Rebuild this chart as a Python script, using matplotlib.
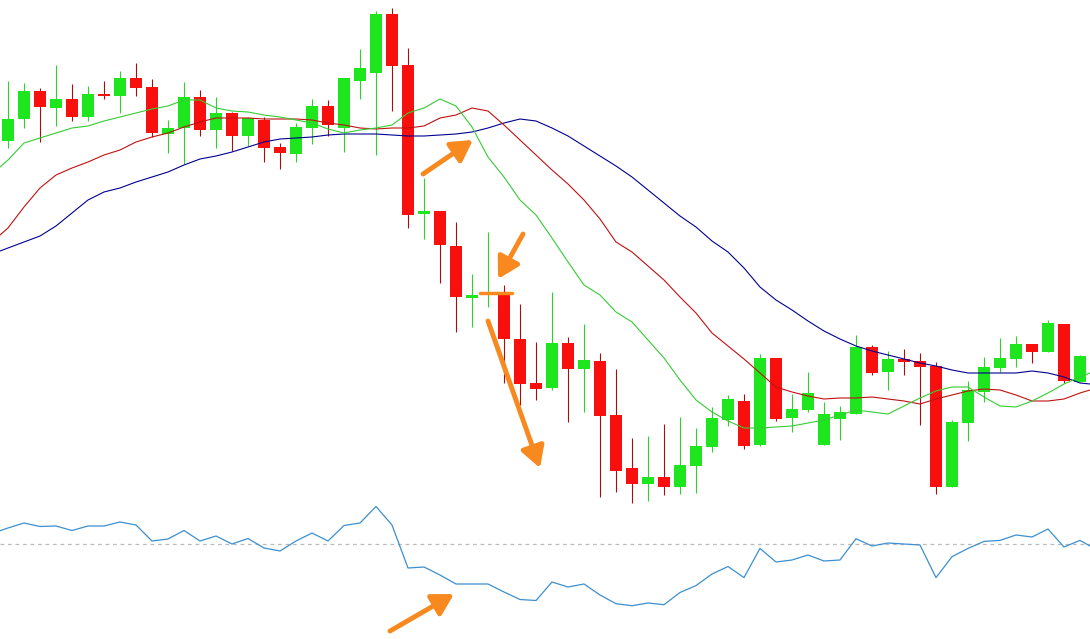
import matplotlib
matplotlib.use("Agg")
import matplotlib.pyplot as plt
import numpy as np

# OHLC (index-like price units)
opens = [459, 481, 509, 492, 501, 483, 506, 504, 522, 513,
         466, 472, 503, 470, 487, 464, 480, 453, 446, 472,
         494, 472, 519, 527, 586, 535, 386, 389, 354, 302,
         305, 307, 261, 217, 212, 257, 231, 239, 185, 132,
         116, 123, 113, 134, 153, 180, 199, 155, 242, 182,
         190, 155, 181, 186, 253, 228, 241, 239, 234, 113,
         177, 208, 232, 241, 256, 248, 276, 218]
highs = [519, 517, 512, 535, 516, 514, 519, 529, 537, 521,
         480, 518, 510, 503, 488, 483, 483, 457, 477, 501,
         500, 522, 551, 589, 592, 552, 422, 389, 378, 326,
         368, 315, 296, 258, 308, 263, 276, 247, 231, 162,
         164, 176, 183, 172, 193, 205, 206, 246, 242, 206,
         228, 198, 194, 265, 255, 249, 251, 247, 238, 180,
         219, 243, 262, 264, 256, 280, 276, 245]
lows = [452, 472, 458, 474, 479, 479, 501, 487, 504, 463,
        447, 436, 464, 452, 449, 454, 438, 431, 438, 456,
        464, 448, 501, 445, 489, 372, 361, 317, 268, 273,
        293, 217, 195, 200, 210, 178, 188, 103, 108, 97,
        99, 105, 106, 107, 148, 174, 151, 154, 179, 168,
        188, 155, 160, 186, 225, 210, 225, 175, 106, 113,
        159, 198, 228, 233, 237, 248, 217, 218]
closes = [481, 509, 493, 501, 483, 506, 504, 522, 512, 467,
          472, 503, 470, 487, 464, 482, 452, 447, 473, 494,
          475, 522, 532, 586, 534, 385, 389, 355, 303, 305,
          307, 261, 216, 211, 257, 231, 240, 184, 129, 116,
          123, 113, 135, 154, 182, 201, 154, 242, 181, 191,
          207, 186, 188, 253, 227, 241, 238, 233, 113, 178,
          210, 233, 242, 256, 248, 277, 219, 244]

# moving averages (fast / medium / slow), one value per candle
ma_fast = [440, 457, 462, 467, 472, 474, 479, 483, 487, 491,
           494, 500, 500, 492, 489, 488, 485, 483, 480, 477,
           471, 467, 470, 472, 475, 487, 492, 501, 494, 473,
           443, 423, 400, 385, 362, 338, 315, 305, 288, 278,
           260, 242, 220, 200, 188, 179, 172, 172, 173, 174,
           177, 180, 185, 190, 188, 186, 194, 202, 209, 213,
           213, 203, 194, 193, 199, 207, 216, 223]
ma_mid = [372, 393, 412, 425, 432, 438, 445, 450, 458, 463,
          467, 473, 478, 482, 482, 482, 481, 481, 481, 480,
          477, 475, 472, 471, 472, 472, 474, 482, 485, 492,
          489, 475, 460, 445, 430, 416, 400, 381, 358, 348,
          334, 320, 303, 287, 267, 254, 241, 227, 213, 208,
          204, 201, 202, 202, 203, 201, 199, 196, 201, 205,
          209, 211, 210, 205, 199, 199, 201, 207]
ma_slow = [352, 358, 364, 374, 387, 400, 408, 412, 418, 423,
           428, 435, 441, 444, 448, 453, 458, 461, 462, 463,
           465, 466, 466, 466, 465, 464, 464, 465, 466, 468,
           472, 477, 481, 479, 472, 464, 454, 444, 434, 423,
           410, 397, 384, 373, 359, 348, 332, 313, 300, 290,
           279, 269, 261, 254, 249, 245, 241, 237, 234, 230,
           227, 227, 227, 227, 229, 227, 223, 217]

# oscillator in the lower panel
osc = [1.6, 2.1, 1.75, 1.8, 1.35, 1.8, 1.8, 2.2, 1.9, 0.3,
       0.5, 1.35, 0.3, 0.8, 0.0, 0.55, -0.4, -0.7, 0.3, 1.1,
       0.3, 1.85, 2.1, 3.75, 1.9, -2.4, -2.3, -3.1, -4.0, -4.0,
       -4.0, -4.8, -5.55, -5.65, -3.8, -4.3, -4.0, -5.1, -5.97, -6.17,
       -5.9, -6.07, -4.85, -4.16, -3.0, -2.25, -3.36, -0.44, -1.8, -1.6,
       -1.1, -1.7, -1.6, 0.53, -0.2, 0.1, 0.0, -0.1, -3.36, -1.27,
       -0.44, 0.26, 0.36, 0.9, 0.7, 1.5, -0.3, 0.36]

# line values where they leave the picture (left edge, right edge)
fast_edges = (433, 227)
mid_edges = (365, 210)
slow_edges = (349, 216)
osc_edges = (1.33, -0.2)

# annotation arrows: (tail_x, tail_y, tip_x, tip_y) in data units
price_arrows = [(25.94, 426, 29.06, 460),
                (32.19, 366, 30.63, 321),
                (30.0, 279, 33.25, 132)]
osc_arrows = [(23.875, -8.7, 27.875, -5.0)]
level_line = (29.5, 31.5, 307)

UP = "#1ee61e"
DOWN = "#fa0f0f"
UP_WICK = "#2ed12e"
DOWN_WICK = "#a51010"
ORANGE = "#f7891e"

fig = plt.figure(figsize=(10.9, 6.39), dpi=100)
H = 639.0
ax = fig.add_axes([0, (H - 510) / H, 1, 510 / H])
ax_osc = fig.add_axes([0, 0, 1, 149 / H])
X_LEFT, X_RIGHT = -0.5, 67.625
for a in (ax, ax_osc):
    a.set_axis_off()
    a.patch.set_alpha(0)
    a.set_xlim(X_LEFT, X_RIGHT)
ax.set_ylim(90, 600)
ax_osc.set_ylim(-9.5, 5.4)

x = np.arange(len(opens))
o = np.array(opens)
c = np.array(closes)
up = c >= o

# wicks
ax.vlines(x[up], np.array(lows)[up], np.array(highs)[up], color=UP_WICK, lw=0.8, zorder=1)
ax.vlines(x[~up], np.array(lows)[~up], np.array(highs)[~up], color=DOWN_WICK, lw=0.8, zorder=1)

# bodies
body_bottom = np.minimum(o, c)
body_height = np.abs(c - o)
ax.bar(x[up], body_height[up], bottom=body_bottom[up], width=0.7, color=UP, lw=0, zorder=2)
ax.bar(x[~up], body_height[~up], bottom=body_bottom[~up], width=0.7, color=DOWN, lw=0, zorder=2)


def with_edges(values, edges):
    xs = np.r_[X_LEFT, x, X_RIGHT]
    ys = np.r_[edges[0], values, edges[1]]
    return xs, ys


# moving averages
ax.plot(*with_edges(ma_slow, slow_edges), color="#000090", lw=0.8, zorder=3)
ax.plot(*with_edges(ma_mid, mid_edges), color="#c01010", lw=0.8, zorder=3)
ax.plot(*with_edges(ma_fast, fast_edges), color="#35cc35", lw=0.8, zorder=3)

# oscillator
ax_osc.axhline(0, color="#bbbbbb", lw=0.9, ls=(0, (3, 3)), zorder=1)
ax_osc.plot(*with_edges(osc, osc_edges), color="#3c8fd0", lw=0.9, zorder=2)

# orange annotations
arrow_props = dict(arrowstyle="-|>,head_length=0.7,head_width=0.4",
                   color=ORANGE, lw=3.5, mutation_scale=18,
                   shrinkA=0, shrinkB=0, capstyle="round")
for tx, ty, hx, hy in price_arrows:
    ax.annotate("", xy=(hx, hy), xytext=(tx, ty), arrowprops=arrow_props, zorder=5)
for tx, ty, hx, hy in osc_arrows:
    ax_osc.annotate("", xy=(hx, hy), xytext=(tx, ty), arrowprops=arrow_props, zorder=5)

x0, x1, lvl = level_line
ax.plot([x0, x1], [lvl, lvl], color=ORANGE, lw=2.5, solid_capstyle="round", zorder=5)

fig.savefig("out.png", dpi=100)
